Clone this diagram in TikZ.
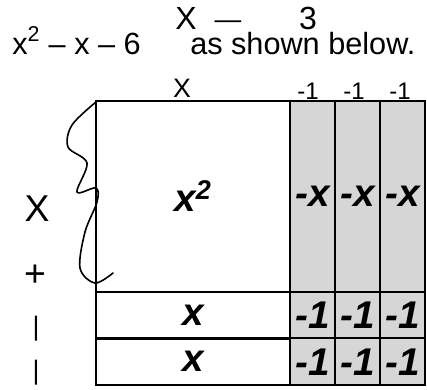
\documentclass[tikz,border=0pt]{standalone}
\usepackage{fontspec}
\setmainfont{Liberation Sans}
\usetikzlibrary{positioning}
\definecolor{tileshade}{RGB}{214,214,214}

\begin{document}
\begin{tikzpicture}[
  x=0.75pt, y=-0.75pt,
  tile/.style={rectangle, draw=black, line width=1.5pt, inner sep=0pt, font=\fontsize{29}{29}\selectfont\bfseries\itshape},
  negtile/.style={tile, fill=tileshade},
  hand/.style={inner sep=0pt, font=\fontsize{28}{28}\selectfont},
  smallhand/.style={inner sep=0pt, font=\fontsize{18}{18}\selectfont},
  tophand/.style={inner sep=0pt, anchor=base, font=\fontsize{24}{24}\selectfont},
  printed/.style={inner sep=0pt, anchor=base west, font=\fontsize{23}{23}\selectfont}
]
\useasboundingbox (0,0) rectangle (427,389);

% Printed text
\node[printed] (poly) at (12,54) {x\textsuperscript{2} – x – 6};
\node[printed] (note) at (190,54) {as shown below.};

% Big x^2 square
\node[tile, minimum width=145.5pt, minimum height=143.25pt] (sq) at (193,196.5) {x\textsuperscript{2}};

% Unit x bars
\node[tile, minimum width=145.5pt, minimum height=34.9pt] (xa) at (193,315.25) {x};
\node[tile, minimum width=145.5pt, minimum height=34.9pt] (xb) at (193,361.75) {x};

% Negative x columns and unit squares
\foreach \c in {0,1,2} {
  \node[negtile, minimum width=33.75pt, minimum height=143.25pt] (nx\c) at (312.5+45*\c,196.5) {-x};
  \node[negtile, minimum width=33.75pt, minimum height=34.9pt] (na\c) at (312.5+45*\c,315.25) {-1};
  \node[negtile, minimum width=33.75pt, minimum height=34.9pt] (nb\c) at (312.5+45*\c,361.75) {-1};
  \node[smallhand] (top\c) at (308+46*\c,91) {-1};
}

% Handwritten factors
\node[tophand] (topx) at (186,29) {X};
\node[tophand, font=\fontsize{20}{20}\selectfont] (minus) at (228,28) {—};
\node[tophand] (three) at (308,29) {3};
\node[smallhand, font=\fontsize{20}{20}\selectfont] (sidex) at (182,88) {X};
\node[hand] (lx) at (37,209) {X};
\node[hand] (lplus) at (35,276) {+};
\node[hand, font=\fontsize{20}{20}\selectfont] (lone) at (36,329) {|};
\node[hand, font=\fontsize{20}{20}\selectfont] (ltwo) at (36,373) {|};

% Hand drawn brace
\draw[line width=1.2pt, line cap=round, line join=round] plot[smooth, tension=0.55] coordinates {
  (96,102) (72,125) (68,147) (87,163) (77,192) (96,188) (97,202) (85,232) (80,268) (95,283) (113,273)};

\end{tikzpicture}
\end{document}
